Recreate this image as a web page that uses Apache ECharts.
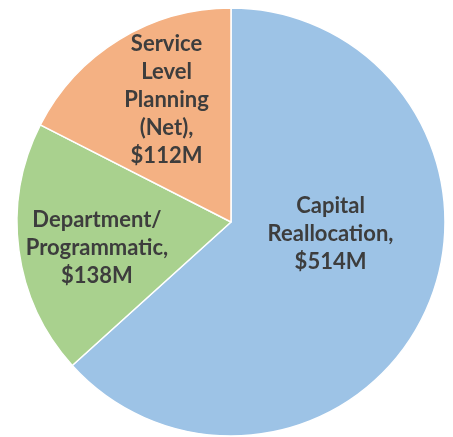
<!DOCTYPE html>
<html>
<head>
<meta charset="utf-8">
<script src="https://cdn.jsdelivr.net/npm/echarts@6/dist/echarts.min.js"></script>
<style>
html,body{margin:0;padding:0;background:#fff;}
#chart{width:453px;height:437px;}
</style>
</head>
<body>
<div id="chart"></div>
<script>
// Data
const categories = ['Capital\nReallocation,', 'Department/\nProgrammatic,', 'Service\nLevel\nPlanning\n(Net),'];
const amountLabels = ['$514M', '$138M', '$112M'];
// slice sizes as drawn (share of the pie, %)
const sliceShares = [63.3, 19.2, 17.5];
const colors = ['#9DC3E6', '#A9D18E', '#F4B183'];

const labelShift = [[-1, -33], [-25, 11], [-7, -28]];

const chart = echarts.init(document.getElementById('chart'), null, {renderer: 'canvas'});
chart.setOption({
  backgroundColor: '#ffffff',
  animation: false,
  series: [{
    type: 'pie',
    center: [231, 222],
    radius: [0, 214],
    startAngle: 90,
    clockwise: true,
    avoidLabelOverlap: false,
    itemStyle: {borderColor: '#ffffff', borderWidth: 1.5},
    label: {
      show: true,
      position: 'inside',
      color: '#3d3d3d',
      fontFamily: 'Lato',
      fontWeight: 'bold',
      fontSize: 22,
      lineHeight: 28,
      align: 'center',
      formatter: p => p.name + '\n' + amountLabels[p.dataIndex]
    },
    labelLine: {show: false},
    emphasis: {disabled: true},
    labelLayout: p => ({dx: labelShift[p.dataIndex][0], dy: labelShift[p.dataIndex][1]}),
    data: categories.map((c, i) => ({name: c, value: sliceShares[i], itemStyle: {color: colors[i]}}))
  }]
});
</script>
</body>
</html>
